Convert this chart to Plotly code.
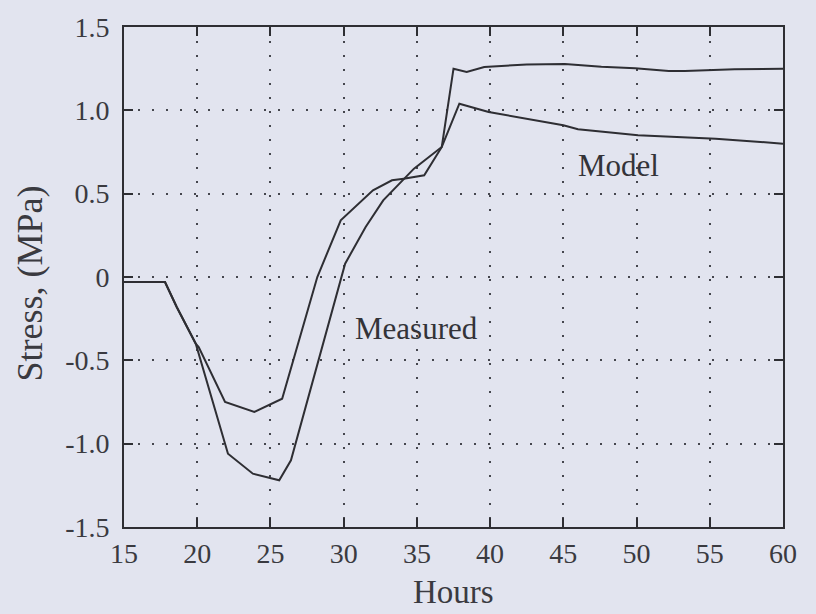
import plotly.graph_objects as go

# Measured stress history (hours, MPa)
measured_hours = [15.0, 17.8, 18.6, 19.2, 19.9, 20.1, 21.9, 23.9, 25.8, 28.2, 29.8,
                  32.0, 33.3, 34.1, 35.5, 36.7, 37.5, 38.4, 39.6, 42.5, 45.1,
                  47.6, 49.9, 52.2, 53.3, 56.7, 60.0]
measured_stress = [-0.03, -0.03, -0.18, -0.28, -0.40, -0.42, -0.75, -0.81, -0.73,
                   0.00, 0.34, 0.52, 0.58, 0.59, 0.61, 0.78, 1.25, 1.23, 1.26,
                   1.275, 1.278, 1.262, 1.252, 1.236, 1.236, 1.246, 1.25]

# Model stress history (hours, MPa)
model_hours = [15.0, 17.8, 18.6, 19.2, 19.9, 22.1, 23.8, 25.6, 26.4, 30.1, 31.5,
               32.7, 34.8, 36.7, 37.9, 39.9, 45.0, 46.0, 50.1, 55.4, 60.0]
model_stress = [-0.03, -0.03, -0.18, -0.28, -0.40, -1.06, -1.18, -1.22, -1.10,
                0.08, 0.30, 0.46, 0.65, 0.78, 1.04, 0.99, 0.91, 0.886, 0.85,
                0.83, 0.80]

x_ticks = [15, 20, 25, 30, 35, 40, 45, 50, 55, 60]
y_ticks = [-1.5, -1.0, -0.5, 0, 0.5, 1.0, 1.5]
y_tick_text = ["-1.5", "-1.0", "-0.5", "0", "0.5", "1.0", "1.5"]

ink = "#2e2e33"
text_ink = "#3a3a40"
bg = "#e2e4ef"
font_family = "Liberation Serif, DejaVu Serif, serif"

fig = go.Figure()
fig.add_trace(go.Scatter(x=measured_hours, y=measured_stress, mode="lines",
                         line=dict(color=ink, width=2), name="Measured"))
fig.add_trace(go.Scatter(x=model_hours, y=model_stress, mode="lines",
                         line=dict(color=ink, width=2), name="Model"))

axis_common = dict(
    showline=True, linecolor=ink, linewidth=1.8, mirror="ticks",
    ticks="inside", ticklen=9, tickwidth=1.5, tickcolor=ink,
    showgrid=True, gridcolor="#45464e", gridwidth=2, griddash="2px,12px",
    zeroline=False,
    tickfont=dict(family=font_family, size=28, color=text_ink),
)

fig.update_xaxes(range=[15, 60], tickvals=x_ticks, ticklabelstandoff=0, **axis_common)
fig.update_yaxes(range=[-1.5, 1.5], tickvals=y_ticks, ticktext=y_tick_text,
                 ticklabelstandoff=7, **axis_common)

# axis titles placed as paper-anchored text
fig.add_annotation(xref="paper", yref="paper", x=0.5, y=-0.17, yanchor="bottom",
                   text="Hours", showarrow=False,
                   font=dict(family=font_family, size=33, color=text_ink))
fig.add_annotation(xref="paper", yref="paper", x=-0.142, y=0.488, xanchor="center",
                   text="Stress, (MPa)", textangle=-90, showarrow=False,
                   font=dict(family=font_family, size=36, color=text_ink))

fig.add_annotation(x=48.8, y=0.67, text="Model", showarrow=False,
                   font=dict(family=font_family, size=31, color="#333338"))
fig.add_annotation(x=35.0, y=-0.31, text="Measured", showarrow=False,
                   font=dict(family=font_family, size=31, color="#333338"))

fig.update_layout(
    width=816, height=614,
    margin=dict(l=124, r=33, t=27, b=87),
    paper_bgcolor=bg, plot_bgcolor=bg,
    showlegend=False,
)

fig.write_html("out.html")
